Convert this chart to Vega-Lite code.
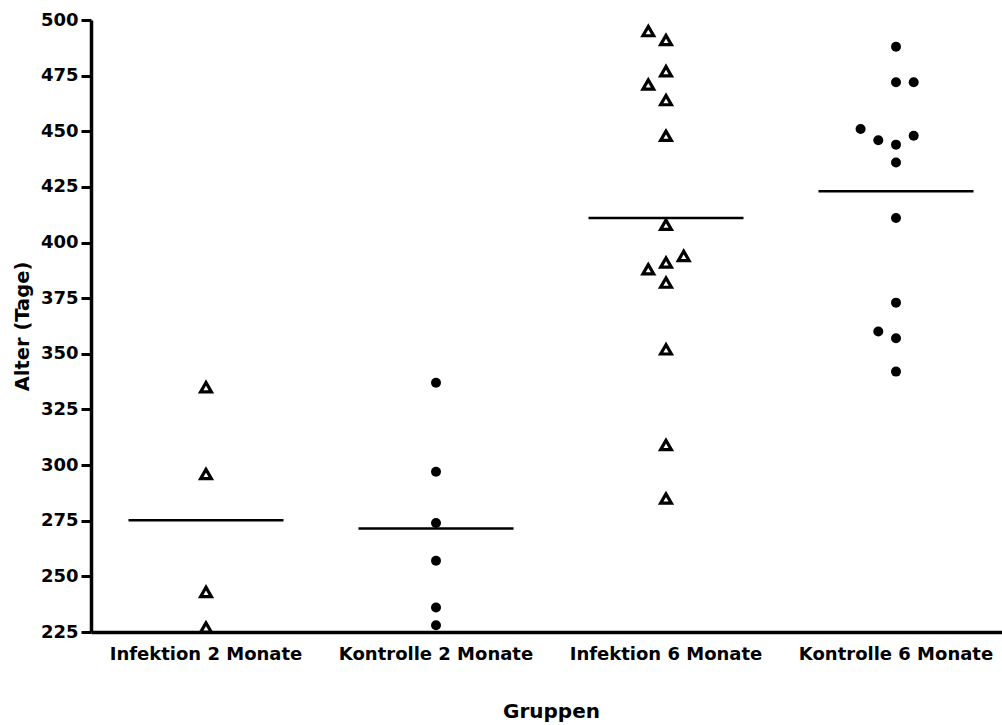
{
  "$schema": "https://vega.github.io/schema/vega-lite/v6.json",
  "width": 911,
  "height": 612,
  "autosize": {"type": "none"},
  "padding": {"left": 91, "top": 20, "right": 0, "bottom": 93},
  "background": "white",
  "config": {"view": {"stroke": null}, "font": "DejaVu Sans"},
  "data": {
    "values": [
      {"gruppe": "Infektion 2 Monate", "typ": "Infektion", "alter": 335, "jitter": 0},
      {"gruppe": "Infektion 2 Monate", "typ": "Infektion", "alter": 296, "jitter": 0},
      {"gruppe": "Infektion 2 Monate", "typ": "Infektion", "alter": 243, "jitter": 0},
      {"gruppe": "Infektion 2 Monate", "typ": "Infektion", "alter": 227, "jitter": 0},
      {"gruppe": "Kontrolle 2 Monate", "typ": "Kontrolle", "alter": 337, "jitter": 0},
      {"gruppe": "Kontrolle 2 Monate", "typ": "Kontrolle", "alter": 297, "jitter": 0},
      {"gruppe": "Kontrolle 2 Monate", "typ": "Kontrolle", "alter": 274, "jitter": 0},
      {"gruppe": "Kontrolle 2 Monate", "typ": "Kontrolle", "alter": 257, "jitter": 0},
      {"gruppe": "Kontrolle 2 Monate", "typ": "Kontrolle", "alter": 236, "jitter": 0},
      {"gruppe": "Kontrolle 2 Monate", "typ": "Kontrolle", "alter": 228, "jitter": 0},
      {"gruppe": "Infektion 6 Monate", "typ": "Infektion", "alter": 495, "jitter": -1},
      {"gruppe": "Infektion 6 Monate", "typ": "Infektion", "alter": 491, "jitter": 0},
      {"gruppe": "Infektion 6 Monate", "typ": "Infektion", "alter": 477, "jitter": 0},
      {"gruppe": "Infektion 6 Monate", "typ": "Infektion", "alter": 471, "jitter": -1},
      {"gruppe": "Infektion 6 Monate", "typ": "Infektion", "alter": 464, "jitter": 0},
      {"gruppe": "Infektion 6 Monate", "typ": "Infektion", "alter": 448, "jitter": 0},
      {"gruppe": "Infektion 6 Monate", "typ": "Infektion", "alter": 408, "jitter": 0},
      {"gruppe": "Infektion 6 Monate", "typ": "Infektion", "alter": 394, "jitter": 1},
      {"gruppe": "Infektion 6 Monate", "typ": "Infektion", "alter": 391, "jitter": 0},
      {"gruppe": "Infektion 6 Monate", "typ": "Infektion", "alter": 388, "jitter": -1},
      {"gruppe": "Infektion 6 Monate", "typ": "Infektion", "alter": 382, "jitter": 0},
      {"gruppe": "Infektion 6 Monate", "typ": "Infektion", "alter": 352, "jitter": 0},
      {"gruppe": "Infektion 6 Monate", "typ": "Infektion", "alter": 309, "jitter": 0},
      {"gruppe": "Infektion 6 Monate", "typ": "Infektion", "alter": 285, "jitter": 0},
      {"gruppe": "Kontrolle 6 Monate", "typ": "Kontrolle", "alter": 488, "jitter": 0},
      {"gruppe": "Kontrolle 6 Monate", "typ": "Kontrolle", "alter": 472, "jitter": 0},
      {"gruppe": "Kontrolle 6 Monate", "typ": "Kontrolle", "alter": 472, "jitter": 1},
      {"gruppe": "Kontrolle 6 Monate", "typ": "Kontrolle", "alter": 451, "jitter": -2},
      {"gruppe": "Kontrolle 6 Monate", "typ": "Kontrolle", "alter": 446, "jitter": -1},
      {"gruppe": "Kontrolle 6 Monate", "typ": "Kontrolle", "alter": 444, "jitter": 0},
      {"gruppe": "Kontrolle 6 Monate", "typ": "Kontrolle", "alter": 448, "jitter": 1},
      {"gruppe": "Kontrolle 6 Monate", "typ": "Kontrolle", "alter": 436, "jitter": 0},
      {"gruppe": "Kontrolle 6 Monate", "typ": "Kontrolle", "alter": 411, "jitter": 0},
      {"gruppe": "Kontrolle 6 Monate", "typ": "Kontrolle", "alter": 373, "jitter": 0},
      {"gruppe": "Kontrolle 6 Monate", "typ": "Kontrolle", "alter": 360, "jitter": -1},
      {"gruppe": "Kontrolle 6 Monate", "typ": "Kontrolle", "alter": 357, "jitter": 0},
      {"gruppe": "Kontrolle 6 Monate", "typ": "Kontrolle", "alter": 342, "jitter": 0}
    ]
  },
  "encoding": {
    "x": {
      "field": "gruppe",
      "type": "nominal",
      "sort": ["Infektion 2 Monate", "Kontrolle 2 Monate", "Infektion 6 Monate", "Kontrolle 6 Monate"],
      "scale": {"range": [0, 920], "paddingInner": 0, "paddingOuter": 0},
      "axis": {
        "title": "Gruppen",
        "labelAngle": 0,
        "labelFont": "DejaVu Sans",
        "labelFontWeight": "bold",
        "labelFontSize": 18,
        "labelColor": "black",
        "labelPadding": 13,
        "labelLimit": 0,
        "labelOverlap": false,
        "ticks": false,
        "domainColor": "black",
        "domainWidth": 3.5,
        "titleFont": "DejaVu Sans",
        "titleFontWeight": "bold",
        "titleFontSize": 20,
        "titleColor": "black",
        "titlePadding": 38
      }
    },
    "y": {
      "field": "alter",
      "type": "quantitative",
      "title": "Alter (Tage)",
      "scale": {"domain": [225, 500], "nice": false, "zero": false},
      "axis": {
        "values": [225, 250, 275, 300, 325, 350, 375, 400, 425, 450, 475, 500],
        "grid": false,
        "labelFont": "DejaVu Sans",
        "labelFontWeight": "bold",
        "labelFontSize": 18,
        "labelColor": "black",
        "labelPadding": 3,
        "tickSize": 10,
        "tickWidth": 3,
        "tickColor": "black",
        "domainColor": "black",
        "domainWidth": 3.5,
        "titleFont": "DejaVu Sans",
        "titleFontWeight": "bold",
        "titleFontSize": 19.5,
        "titleColor": "black",
        "titlePadding": 8
      }
    }
  },
  "layer": [
    {
      "mark": {"type": "tick", "size": 155, "thickness": 2.5, "color": "black", "opacity": 1},
      "encoding": {
        "y": {"aggregate": "mean", "field": "alter", "type": "quantitative", "title": "Alter (Tage)"}
      }
    },
    {
      "transform": [{"filter": "datum.typ === 'Infektion'"}],
      "mark": {"type": "point", "shape": "triangle-up", "size": 115, "strokeWidth": 3.2, "filled": false, "fill": "white", "stroke": "black", "opacity": 1, "strokeJoin": "miter"},
      "encoding": {
        "xOffset": {"field": "jitter", "type": "quantitative", "scale": {"domain": [-1, 1], "range": [97.3, 132.7]}}
      }
    },
    {
      "transform": [{"filter": "datum.typ === 'Kontrolle'"}],
      "mark": {"type": "circle", "size": 100, "color": "black", "opacity": 1},
      "encoding": {
        "xOffset": {"field": "jitter", "type": "quantitative", "scale": {"domain": [-1, 1], "range": [97.3, 132.7]}}
      }
    }
  ]
}
